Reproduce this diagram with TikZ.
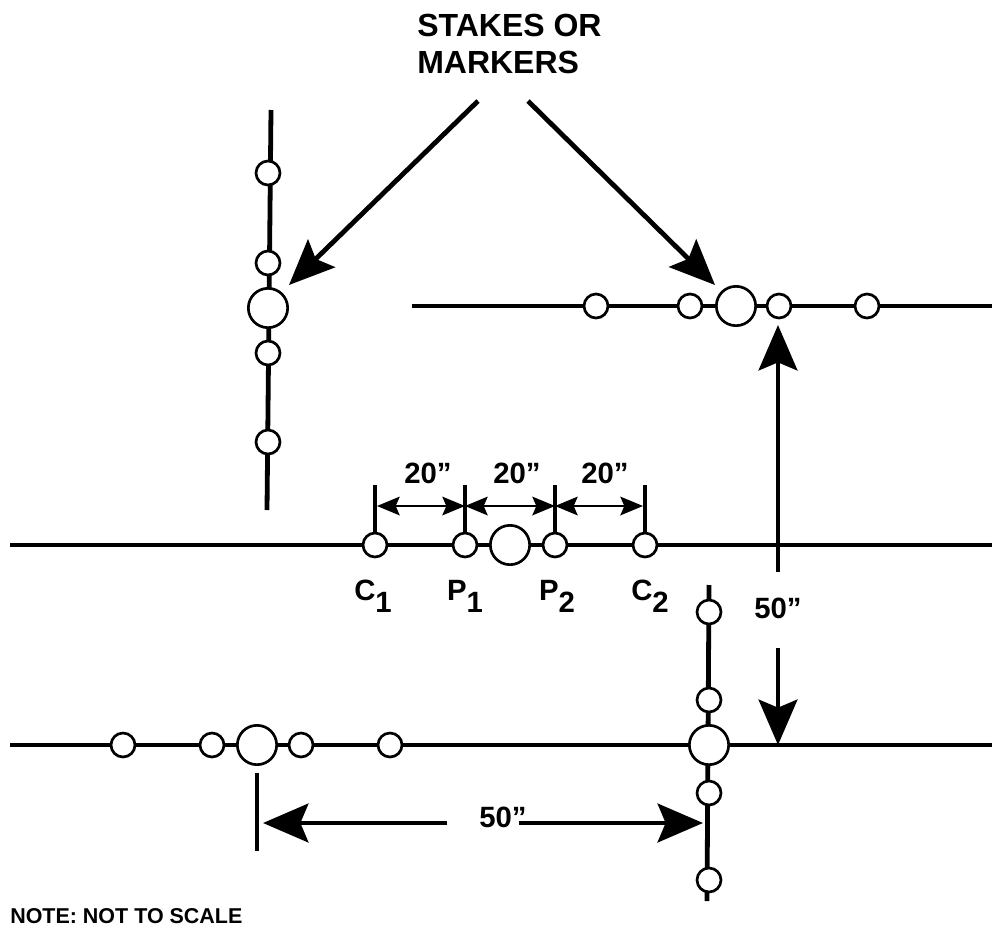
\documentclass[tikz,border=0pt]{standalone}
\usepackage{fontspec}
\setmainfont{Liberation Sans}
\usetikzlibrary{arrows.meta,positioning}
\tikzset{
    stake/.style={circle, draw, fill=white, line width=2pt, minimum size=18pt, inner sep=0pt},
    hub/.style={circle, draw, fill=white, line width=2pt, minimum size=29.5pt, inner sep=0pt},
    stakeline/.style={line width=3.6pt},
    tickline/.style={line width=3.4pt},
    bigarrow/.style={line width=3.6pt, -{Stealth[length=34pt, width=29pt, inset=6pt]}},
    smallarrow/.style={line width=1.5pt, {Stealth[length=17pt, width=14pt, inset=3pt]}-{Stealth[length=17pt, width=14pt, inset=3pt]}},
    lbl/.style={font=\bfseries\fontsize{22}{24}\selectfont, inner sep=0pt},
}
\begin{document}
\begin{tikzpicture}[x=0.75pt, y=-0.75pt]
    \useasboundingbox (0,0) rectangle (992,928);
    % lines under the stakes
    \coordinate (leftTop) at (271,110);
    \coordinate (leftEnd) at (267,510);
    \coordinate (topStart) at (412,306);
    \coordinate (topEnd) at (992,306);
    \coordinate (midStart) at (10,545);
    \coordinate (midEnd) at (992,545);
    \coordinate (lowStart) at (10,745);
    \coordinate (lowEnd) at (992,745);
    \coordinate (crossTop) at (709,585);
    \coordinate (crossEnd) at (707,901);
    \draw[stakeline] (leftTop) -- (leftEnd);
    \draw[stakeline] (topStart) -- (topEnd);
    \draw[stakeline] (midStart) -- (midEnd);
    \draw[stakeline] (lowStart) -- (lowEnd);
    \draw[stakeline] (crossTop) -- (crossEnd);

    % stakes
    \foreach \y/\name in {173/la, 263/lb, 353/lc, 442/ld}
        \node[stake] (\name) at (268,\y) {};
    \node[hub] (lhub) at (268,308) {};
    \foreach \x/\name in {596/ta, 690/tb, 779/tc, 867/td}
        \node[stake] (\name) at (\x,306) {};
    \node[hub] (thub) at (736,306) {};
    \foreach \x/\name in {375/cone, 465/pone, 555/ptwo, 645/ctwo}
        \node[stake] (\name) at (\x,545) {};
    \node[hub] (mhub) at (510,545) {};
    \foreach \x/\name in {123/ba, 212/bb, 301/bc, 390/bd}
        \node[stake] (\name) at (\x,745) {};
    \node[hub] (bhub) at (257,745) {};
    \foreach \y/\name in {612/ca, 700/cb, 793/cc, 880/cd}
        \node[stake] (\name) at (709,\y) {};
    \node[hub] (chub) at (709,745) {};

    % ticks and 20'' dimensions
    \coordinate (tickCone) at (375,485);
    \coordinate (tickPone) at (465,485);
    \coordinate (tickPtwo) at (555,485);
    \coordinate (tickCtwo) at (645,485);
    \draw[tickline] (tickCone) -- (cone);
    \draw[tickline] (tickPone) -- (pone);
    \draw[tickline] (tickPtwo) -- (ptwo);
    \draw[tickline] (tickCtwo) -- (ctwo);
    \coordinate (dimA) at (377,506);
    \coordinate (dimB) at (465,506);
    \coordinate (dimC) at (555,506);
    \coordinate (dimD) at (643,506);
    \draw[smallarrow] (dimA) -- (dimB);
    \draw[smallarrow] (dimB) -- (dimC);
    \draw[smallarrow] (dimC) -- (dimD);
    \node[lbl] (dimtextA) at (428,473) {20”};
    \node[lbl] (dimtextB) at (517,473) {20”};
    \node[lbl] (dimtextC) at (605,473) {20”};

    % stake labels
    \node[lbl, anchor=base] (labCone) at (373,600) {C\raisebox{-9pt}{1}};
    \node[lbl, anchor=base] (labPone) at (465,600) {P\raisebox{-9pt}{1}};
    \node[lbl, anchor=base] (labPtwo) at (557,600) {P\raisebox{-9pt}{2}};
    \node[lbl, anchor=base] (labCtwo) at (650,600) {C\raisebox{-9pt}{2}};

    % caption and its arrows
    \node[lbl, font=\bfseries\fontsize{24}{27.75}\selectfont, align=left, anchor=base west] (title) at (417,73) {STAKES OR\\MARKERS};
    \coordinate (capLeft) at (478,101);
    \coordinate (capRight) at (528,101);
    \coordinate (tipLeft) at (289,285);
    \coordinate (tipRight) at (715,285);
    \draw[bigarrow] (capLeft) -- (tipLeft);
    \draw[bigarrow] (capRight) -- (tipRight);

    % 50'' vertical
    \node[lbl] (vertText) at (778,608) {50”};
    \coordinate (upStart) at (778,572);
    \coordinate (upTip) at (778,325);
    \coordinate (downStart) at (778,648);
    \coordinate (downTip) at (778,745);
    \draw[bigarrow] (upStart) -- (upTip);
    \draw[bigarrow] (downStart) -- (downTip);

    % 50'' horizontal
    \coordinate (bTickTop) at (257,773);
    \coordinate (bTickEnd) at (257,851);
    \draw[tickline] (bTickTop) -- (bTickEnd);
    \node[lbl] (horText) at (503,817) {50”};
    \coordinate (leftStart) at (447,823);
    \coordinate (leftTip) at (263,823);
    \coordinate (rightStart) at (519,823);
    \coordinate (rightTip) at (703,823);
    \draw[bigarrow] (leftStart) -- (leftTip);
    \draw[bigarrow] (rightStart) -- (rightTip);

    \node[lbl, font=\bfseries\fontsize{16.1}{18}\selectfont, anchor=base west] (note) at (10,923) {NOTE: NOT TO SCALE};
\end{tikzpicture}
\end{document}
